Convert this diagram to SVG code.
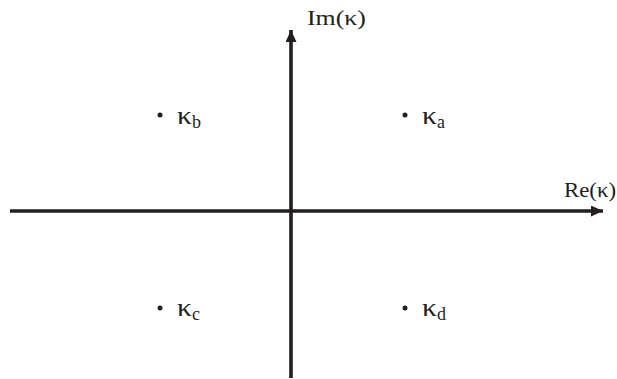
<svg xmlns="http://www.w3.org/2000/svg" width="617" height="379" viewBox="0 0 617 379">
<style>
.ax{stroke:#231f20;stroke-width:3.6;fill:none}
.lbl{font-family:"Liberation Serif","Times New Roman",serif;font-size:21px;fill:#231f20}
.k{font-family:"Liberation Serif","Times New Roman",serif;font-size:25px;fill:#231f20}
.sub{font-size:18px}
.dot{fill:#231f20}
</style>
<defs>
<marker id="ah" markerUnits="userSpaceOnUse" markerWidth="13" markerHeight="11" refX="12" refY="5.5" orient="auto">
<path d="M0,0 L12,5.5 L0,11 Z" fill="#231f20"/>
</marker>
</defs>
<g id="connectors">
<line class="ax" x1="10" y1="211" x2="603" y2="211" marker-end="url(#ah)"/>
<line class="ax" x1="291" y1="378" x2="291" y2="30" marker-end="url(#ah)"/>
</g>
<g id="im-label"><text class="lbl" x="307" y="25" textLength="59" lengthAdjust="spacingAndGlyphs">Im(κ)</text></g>
<g id="re-label"><text class="lbl" x="564" y="197" textLength="52" lengthAdjust="spacingAndGlyphs">Re(κ)</text></g>
<g id="kb"><circle class="dot" cx="160" cy="115" r="2.5"/><text class="k" x="177" y="124"><tspan textLength="15" lengthAdjust="spacingAndGlyphs">κ</tspan><tspan class="sub" dy="4">b</tspan></text></g>
<g id="ka"><circle class="dot" cx="405" cy="115" r="2.5"/><text class="k" x="422" y="124"><tspan textLength="15" lengthAdjust="spacingAndGlyphs">κ</tspan><tspan class="sub" dy="4">a</tspan></text></g>
<g id="kc"><circle class="dot" cx="160" cy="308" r="2.5"/><text class="k" x="177" y="316"><tspan textLength="15" lengthAdjust="spacingAndGlyphs">κ</tspan><tspan class="sub" dy="4">c</tspan></text></g>
<g id="kd"><circle class="dot" cx="405" cy="308" r="2.5"/><text class="k" x="422" y="316"><tspan textLength="15" lengthAdjust="spacingAndGlyphs">κ</tspan><tspan class="sub" dy="4">d</tspan></text></g>
</svg>
